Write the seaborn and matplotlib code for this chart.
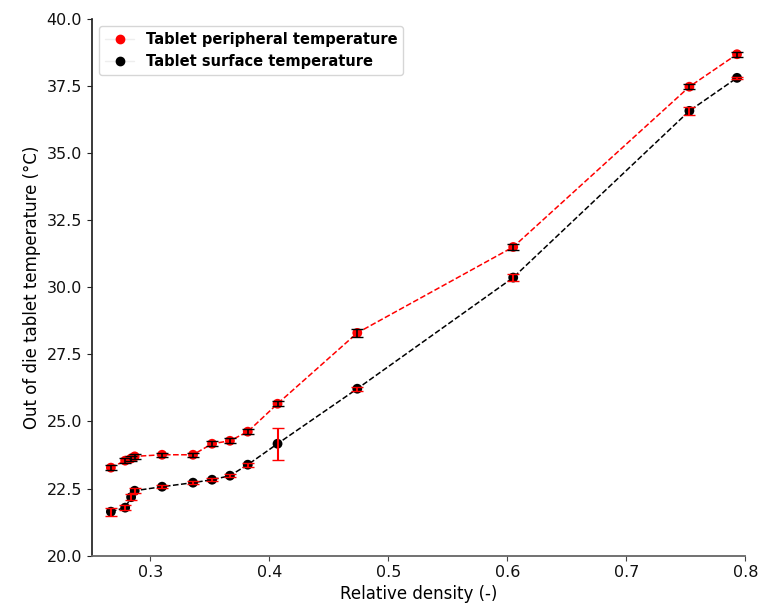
import matplotlib
matplotlib.use("Agg")
import matplotlib.pyplot as plt
import seaborn as sns
import pandas as pd
from matplotlib.lines import Line2D

sns.set_theme(style="ticks", rc={"axes.edgecolor": "#222222", "xtick.color": "#444444", "ytick.color": "#222222",
                                  "text.color": "black", "axes.labelcolor": "black"})
plt.rcParams['font.family'] = ['DejaVu Sans']

density = [0.267, 0.279, 0.284, 0.287, 0.310, 0.336, 0.352, 0.367, 0.382, 0.407, 0.474, 0.605, 0.753, 0.793]
peripheral = [23.28, 23.54, 23.62, 23.70, 23.76, 23.76, 24.17, 24.28, 24.62, 25.66, 28.30, 31.50, 37.47, 38.68]
peripheral_err = [0.10, 0.10, 0.10, 0.10, 0.08, 0.08, 0.10, 0.10, 0.10, 0.10, 0.15, 0.10, 0.10, 0.10]
surface = [21.64, 21.79, 22.18, 22.42, 22.57, 22.72, 22.83, 22.98, 23.39, 24.17, 26.22, 30.36, 36.57, 37.80]
surface_err = [0.15, 0.10, 0.10, 0.10, 0.05, 0.05, 0.05, 0.05, 0.08, 0.60, 0.08, 0.12, 0.15, 0.05]

df_p = pd.DataFrame({"x": density, "y": peripheral})
df_s = pd.DataFrame({"x": density, "y": surface})

fig, ax = plt.subplots(figsize=(7.59, 6.06), dpi=100)
fig.subplots_adjust(left=0.121, right=0.982, top=0.969, bottom=0.083)

sns.lineplot(data=df_p, x="x", y="y", ax=ax, color="red", linestyle="--", linewidth=1.1, sort=False, zorder=1)
sns.lineplot(data=df_s, x="x", y="y", ax=ax, color="black", linestyle="--", linewidth=1.1, sort=False, zorder=1)
sns.scatterplot(data=df_p, x="x", y="y", ax=ax, color="red", s=50, edgecolor="none", zorder=2)
sns.scatterplot(data=df_s, x="x", y="y", ax=ax, color="black", s=50, edgecolor="none", zorder=2)
ax.errorbar(density, peripheral, yerr=peripheral_err, fmt="none", ecolor="black", capsize=4, elinewidth=1.2, zorder=3)
ax.errorbar(density, surface, yerr=surface_err, fmt="none", ecolor="red", capsize=4, elinewidth=1.5, zorder=3)

ax.set_xlim(0.251, 0.8)
ax.set_ylim(20.0, 40.0)
ax.set_yticks([20.0, 22.5, 25.0, 27.5, 30.0, 32.5, 35.0, 37.5, 40.0])
ax.set_xticks([0.3, 0.4, 0.5, 0.6, 0.7, 0.8])
ax.set_xticklabels(["0.3", "0.4", "0.5", "0.6", "0.7", "0.8"])
ax.tick_params(labelsize=11.5, labelcolor="#111111", length=3.5, width=0.8)
ax.spines["bottom"].set_color("#666666")
ax.spines["bottom"].set_linewidth(1.3)
ax.set_xlabel("Relative density (-)", fontsize=12, labelpad=3)
ax.set_ylabel("Out of die tablet temperature (°C)", fontsize=12)
sns.despine(ax=ax)

handles = [
    Line2D([0], [0], marker="o", color="#eeeeee", markerfacecolor="red", markeredgecolor="red", markersize=6, linewidth=1),
    Line2D([0], [0], marker="o", color="#eeeeee", markerfacecolor="black", markeredgecolor="black", markersize=6, linewidth=1),
]
ax.legend(handles, ["Tablet peripheral temperature", "Tablet surface temperature"],
          loc="upper left", bbox_to_anchor=(0.0, 1.0), prop={"weight": "bold", "size": 10.5}, frameon=True)

fig.savefig("out.png", dpi=100)
